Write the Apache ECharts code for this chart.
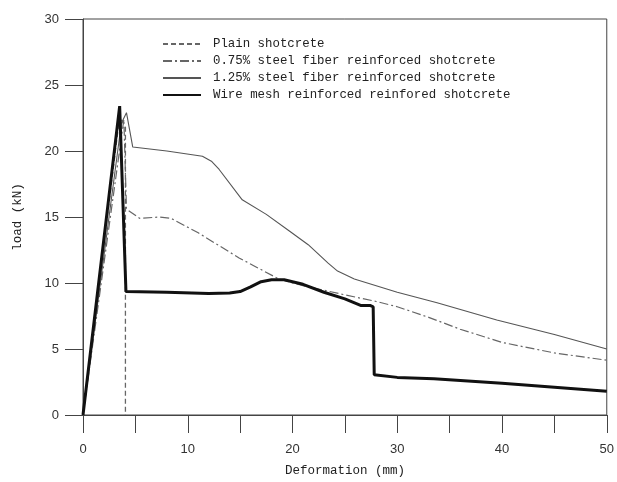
<!DOCTYPE html>
<html>
<head>
<meta charset="utf-8">
<script src="https://cdn.jsdelivr.net/npm/echarts@6/dist/echarts.min.js"></script>
<style>
    html, body { margin: 0; padding: 0; background: #fff; }
    #chart { width: 617px; height: 482px; }
</style>
</head>
<body>
<div id="chart"></div>
<script>
    // 读图得到的数据 [变形 mm, 荷载 kN]
    var plainPts = [[0, 0], [3.5, 22.6], [4.05, 21.8], [4.05, 0]];
    var steel075Pts = [[0, 0], [3.9, 22.4], [4.15, 15.6], [5.4, 14.9], [7.3, 15.0], [8.4, 14.9],
        [11, 13.8], [14.9, 11.9], [18.7, 10.3], [21, 9.8], [25, 9.1], [28, 8.6], [30, 8.2],
        [33, 7.4], [36, 6.5], [40, 5.5], [45, 4.7], [50, 4.15]];
    var steel125Pts = [[0, 0], [3.66, 22.1], [4.15, 22.9], [4.75, 20.3], [8, 20.0], [11.4, 19.6],
        [12.3, 19.2], [13, 18.6], [15.2, 16.3], [17.5, 15.2], [19.6, 14.0], [21.5, 12.9],
        [23.4, 11.5], [24.3, 10.9], [25.9, 10.3], [30, 9.3], [33.8, 8.5], [39.5, 7.2],
        [45, 6.1], [50, 5.0]];
    var meshPts = [[0, 0], [3.5, 23.4], [4.1, 9.35], [8, 9.3], [12, 9.2], [14, 9.25], [15, 9.35],
        [16, 9.7], [17, 10.1], [18, 10.25], [19.2, 10.25], [21, 9.9], [23, 9.3], [25, 8.8],
        [26.5, 8.3], [27.4, 8.3], [27.7, 8.2], [27.8, 3.05], [30, 2.85], [33.5, 2.75],
        [40, 2.4], [45, 2.1], [50, 1.8]];
    var seriesNames = ['Plain shotcrete', '0.75% steel fiber reinforced shotcrete',
        '1.25% steel fiber reinforced shotcrete', 'Wire mesh reinforced reinfored shotcrete'];

    var mono = '"Liberation Mono", "DejaVu Sans Mono", monospace';
    var axisColor = '#444';

    var myChart = echarts.init(document.getElementById('chart'));
    myChart.setOption({
        animation: false,
        grid: {
            left: 83,
            right: 7,
            top: 19,
            bottom: 66,
            show: true,
            borderColor: axisColor,
            borderWidth: 1
        },
        legend: {
            orient: 'vertical',
            left: 157,
            top: 33,
            itemWidth: 38,
            itemHeight: 14,
            itemGap: 5,
            itemStyle: { opacity: 0 },
            data: seriesNames,
            textStyle: {
                fontFamily: mono,
                fontSize: 12.4,
                color: '#222',
                padding: [0, 0, 0, 7]
            }
        },
        xAxis: {
            type: 'value',
            min: 0,
            max: 50,
            interval: 5,
            name: 'Deformation (mm)',
            nameLocation: 'middle',
            nameGap: 49,
            nameTextStyle: { fontFamily: mono, fontSize: 12.5, color: '#222' },
            axisLine: { lineStyle: { color: axisColor } },
            axisTick: { length: 18, lineStyle: { color: axisColor } },
            axisLabel: {
                margin: 28,
                fontFamily: 'Liberation Sans, Arial, sans-serif',
                fontSize: 13,
                color: '#333',
                formatter: function (v) { return v % 10 === 0 ? v : ''; }
            },
            splitLine: { show: false }
        },
        yAxis: {
            type: 'value',
            min: 0,
            max: 30,
            interval: 5,
            name: 'load (kN)',
            nameLocation: 'middle',
            nameGap: 59,
            nameTextStyle: { fontFamily: mono, fontSize: 12.5, color: '#222' },
            axisLine: { show: true, lineStyle: { color: axisColor } },
            axisTick: { show: true, length: 18, lineStyle: { color: axisColor } },
            axisLabel: {
                margin: 24,
                fontFamily: 'Liberation Sans, Arial, sans-serif',
                fontSize: 13,
                color: '#333'
            },
            splitLine: { show: false }
        },
        series: [
            {
                name: seriesNames[0],
                type: 'line',
                data: plainPts,
                symbol: 'none',
                lineStyle: { color: '#666', width: 1.3, type: [5, 3] },
                itemStyle: { color: '#666' }
            },
            {
                name: seriesNames[1],
                type: 'line',
                data: steel075Pts,
                symbol: 'none',
                lineStyle: { color: '#666', width: 1.2, type: [9, 3, 2, 3] },
                itemStyle: { color: '#666' }
            },
            {
                name: seriesNames[2],
                type: 'line',
                data: steel125Pts,
                symbol: 'none',
                lineStyle: { color: '#555', width: 1.1 },
                itemStyle: { color: '#555' }
            },
            {
                name: seriesNames[3],
                type: 'line',
                data: meshPts,
                symbol: 'none',
                lineStyle: { color: '#111', width: 3 },
                itemStyle: { color: '#111' }
            }
        ]
    });
</script>
</body>
</html>
